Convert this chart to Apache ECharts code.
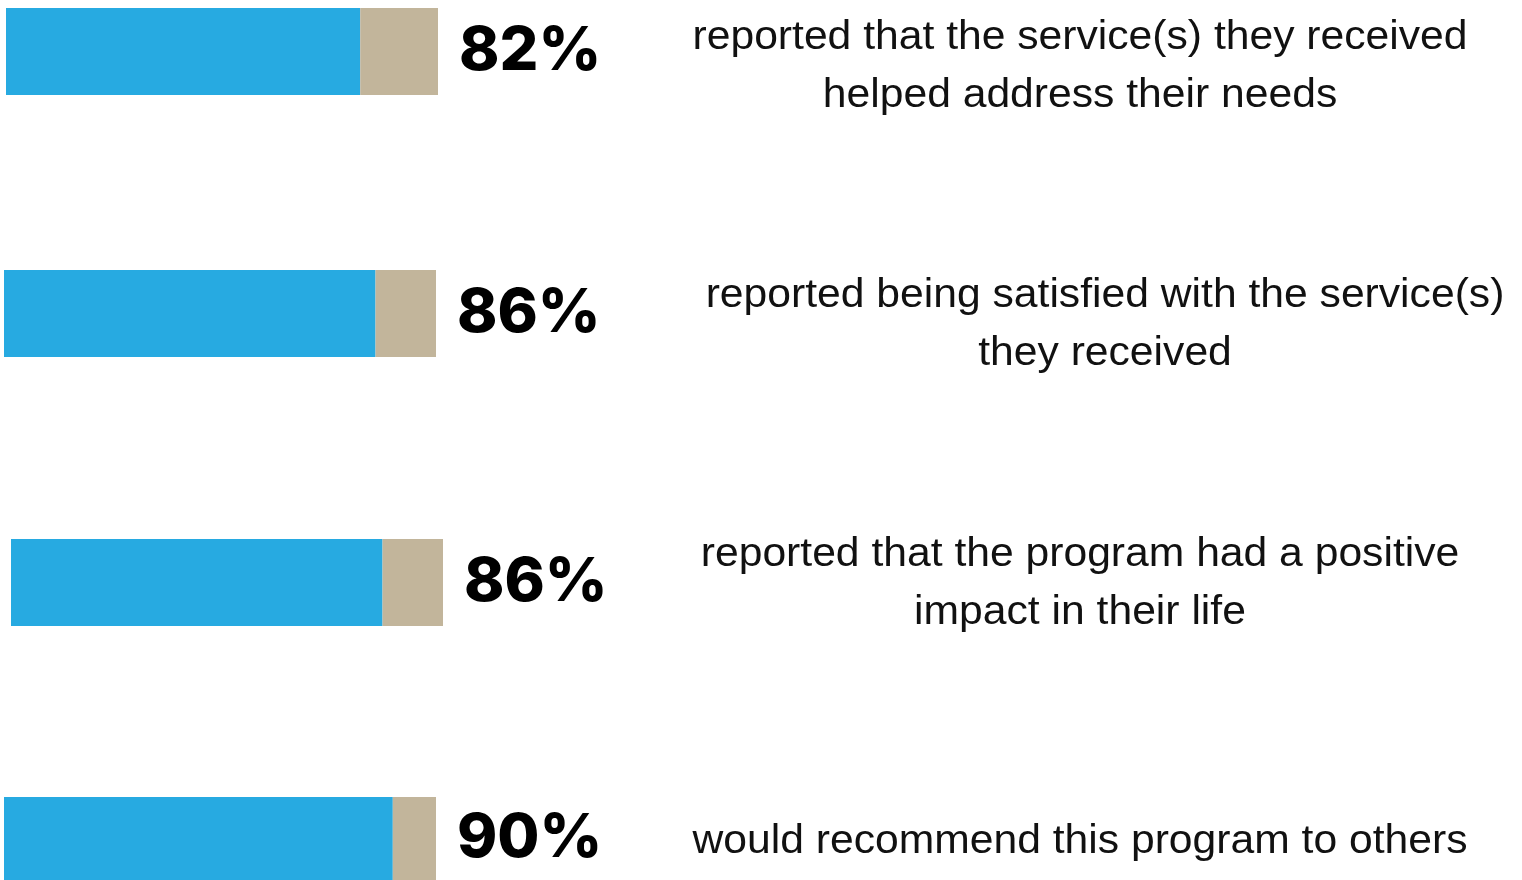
<!DOCTYPE html>
<html>
<head>
<meta charset="utf-8">
<title>Program feedback</title>
<script src="https://cdn.jsdelivr.net/npm/echarts@6/dist/echarts.min.js"></script>
<style>
  html, body { margin: 0; padding: 0; background: #ffffff; }
  #chart { width: 1522px; height: 880px; }
</style>
</head>
<body>
<div id="chart"></div>
<script>
// Survey results: share of respondents agreeing with each statement
const statements = [
  'reported that the service(s) they received\nhelped address their needs',
  'reported being satisfied with the service(s)\nthey received',
  'reported that the program had a positive\nimpact in their life',
  'would recommend this program to others'
];
const agreePct = [82, 86, 86, 90];
const remainderPct = [18, 14, 14, 10];

// Per-row layout: bar placement and statement placement
const rows = [
  { left: 6,  top: 8,   textX: 1080, textY: 9 },
  { left: 4,  top: 270, textX: 1105, textY: 267 },
  { left: 11, top: 539, textX: 1080, textY: 526 },
  { left: 4,  top: 797, textX: 1080, textY: 813 }
];
const BAR_W = 432;
const BAR_H = 87;
const BLUE = '#27aae1';
const TAN = '#c2b59b';

const chart = echarts.init(document.getElementById('chart'), null, { renderer: 'canvas' });

const grid = [], xAxis = [], yAxis = [], series = [], graphic = [];
rows.forEach((r, i) => {
  grid.push({ left: r.left, top: r.top, width: BAR_W, height: BAR_H, containLabel: false });
  xAxis.push({ type: 'value', gridIndex: i, min: 0, max: 100, show: false });
  yAxis.push({ type: 'category', gridIndex: i, data: ['q' + i], show: false });
  series.push({
    type: 'bar', xAxisIndex: i, yAxisIndex: i, stack: 's' + i,
    barWidth: '100%', silent: true,
    itemStyle: { color: BLUE },
    data: [agreePct[i]]
  });
  series.push({
    type: 'bar', xAxisIndex: i, yAxisIndex: i, stack: 's' + i,
    barWidth: '100%', silent: true,
    itemStyle: { color: TAN },
    label: {
      show: true, position: 'right', distance: 21,
      formatter: () => agreePct[i] + '%',
      color: '#000', fontSize: 61, fontWeight: 800,
      fontFamily: 'Inter, Lato, sans-serif'
    },
    data: [remainderPct[i]]
  });
  graphic.push({
    type: 'text', x: r.textX, y: r.textY, scaleX: 1.066, silent: true,
    style: {
      text: statements[i],
      x: 0, y: 0,
      align: 'center', verticalAlign: 'top',
      font: '40px "Liberation Sans", Arial, sans-serif',
      lineHeight: 58,
      fill: '#111'
    }
  });
});

chart.setOption({
  animation: false,
  backgroundColor: '#ffffff',
  grid, xAxis, yAxis, series, graphic
});
</script>
</body>
</html>
